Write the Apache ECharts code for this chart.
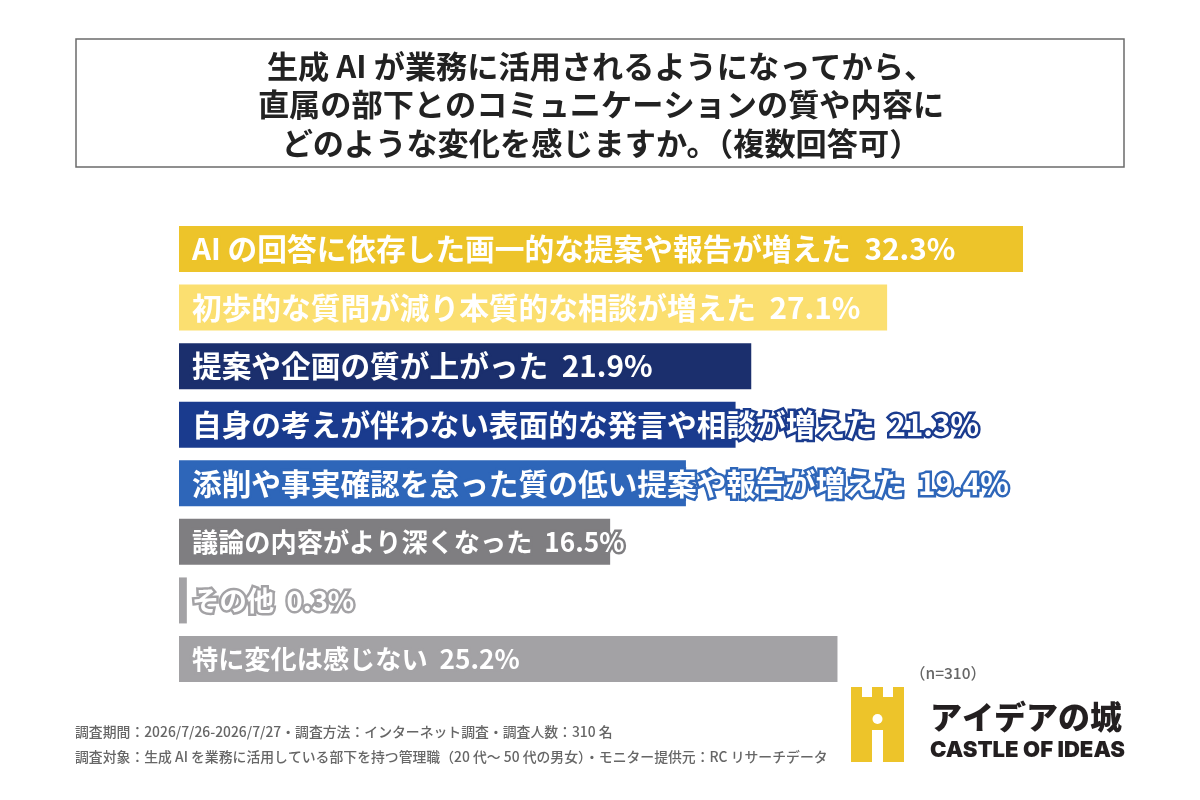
<!DOCTYPE html>
<html>
<head>
<meta charset="utf-8">
<title>生成AI 部下とのコミュニケーションの変化</title>
<script src="https://cdn.jsdelivr.net/npm/echarts@6/dist/echarts.min.js"></script>
<style>
    html, body { margin: 0; padding: 0; background: #fff; }
    #main { width: 1200px; height: 800px; }
</style>
</head>
<body>
<div id="main"></div>
<script>
var categories = [
    'AI の回答に依存した画一的な提案や報告が増えた',
    '初歩的な質問が減り本質的な相談が増えた',
    '提案や企画の質が上がった',
    '自身の考えが伴わない表面的な発言や相談が増えた',
    '添削や事実確認を怠った質の低い提案や報告が増えた',
    '議論の内容がより深くなった',
    'その他',
    '特に変化は感じない'
];
var values = [32.3, 27.1, 21.9, 21.3, 19.4, 16.5, 0.3, 25.2];
var barColors = ['#edc42a', '#fbdf70', '#1b2f6d', '#1a3b8e', '#2e66b9', '#7f7e81', '#a3a2a5', '#a3a2a5'];
var labelSizes = [29.7, 29.7, 29.7, 29.7, 29.7, 26.2, 27.4, 26.2];
var titleLines = [
    '生成 AI が業務に活用されるようになってから、',
    '直属の部下とのコミュニケーションの質や内容に',
    'どのような変化を感じますか。（複数回答可）'
];
var noteLines = [
    '調査期間：2026/7/26-2026/7/27・調査方法：インターネット調査・調査人数：310 名',
    '調査対象：生成 AI を業務に活用している部下を持つ管理職（20 代～ 50 代の男女）・モニター提供元：RC リサーチデータ'
];
var sampleText = '（n=310）';
var logoTitle = 'アイデアの城';
var logoSub = 'CASTLE OF IDEAS';

var jpFont = '"Noto Sans CJK JP", "Noto Sans", sans-serif';

var seriesData = [];
for (var i = 0; i < values.length; i++) {
    seriesData.push({
        name: categories[i],
        value: values[i],
        itemStyle: { color: barColors[i] },
        label: { textBorderColor: barColors[i], fontSize: labelSizes[i] }
    });
}

var myChart = echarts.init(document.getElementById('main'));
var option = {
    backgroundColor: '#ffffff',
    animation: false,
    grid: { left: 179, top: 219.7, width: 844, height: 468.6 },
    xAxis: { type: 'value', min: 0, max: 32.3, show: false },
    yAxis: { type: 'category', inverse: true, data: categories, show: false },
    series: [{
        type: 'bar',
        barWidth: 46,
        data: seriesData,
        label: {
            show: true,
            position: 'insideLeft',
            distance: 13,
            color: '#ffffff',
            fontFamily: jpFont,
            fontWeight: 700,
            textBorderWidth: 5,
            formatter: function (params) {
                return params.name + '  ' + params.value + '%';
            }
        }
    }],
    graphic: [
        // 标题框
        {
            type: 'rect',
            shape: { x: 76, y: 39, width: 1048, height: 128 },
            style: { fill: '#ffffff', stroke: '#6b6b6b', lineWidth: 1.5 }
        },
        {
            type: 'text', x: 601, y: 104.5,
            style: {
                text: titleLines.join('\n'),
                fill: '#222222', font: '700 31.2px ' + jpFont,
                lineHeight: 38.5, align: 'center', verticalAlign: 'middle'
            }
        },
        // 脚注
        {
            type: 'text', x: 75, y: 732,
            style: { text: noteLines[0], fill: '#666666', font: '500 13.85px ' + jpFont, verticalAlign: 'middle' }
        },
        {
            type: 'text', x: 75, y: 757,
            style: { text: noteLines[1], fill: '#666666', font: '500 13.85px ' + jpFont, verticalAlign: 'middle' }
        },
        {
            type: 'text', x: 910, y: 673,
            style: { text: sampleText, fill: '#666666', font: '500 15.5px ' + jpFont, verticalAlign: 'middle' }
        },
        // logo
        {
            type: 'polygon',
            shape: {
                points: [[851, 687], [862, 687], [862, 697], [872, 697], [872, 687], [883, 687], [883, 697],
                    [893, 697], [893, 687], [904, 687], [904, 762], [883, 762], [883, 730], [872, 730], [872, 762], [851, 762]]
            },
            style: { fill: '#edc42a' }
        },
        {
            type: 'circle',
            shape: { cx: 877.5, cy: 719, r: 5 },
            style: { fill: '#ffffff' }
        },
        {
            type: 'text', x: 930, y: 717,
            style: { text: logoTitle, fill: '#231f20', font: '900 32px ' + jpFont, verticalAlign: 'middle' }
        },
        {
            type: 'text', x: 930, y: 750,
            style: { text: logoSub, fill: '#231f20', font: '900 22.1px Inter, ' + jpFont, verticalAlign: 'middle' }
        }
    ]
};
myChart.setOption(option);
</script>
</body>
</html>
